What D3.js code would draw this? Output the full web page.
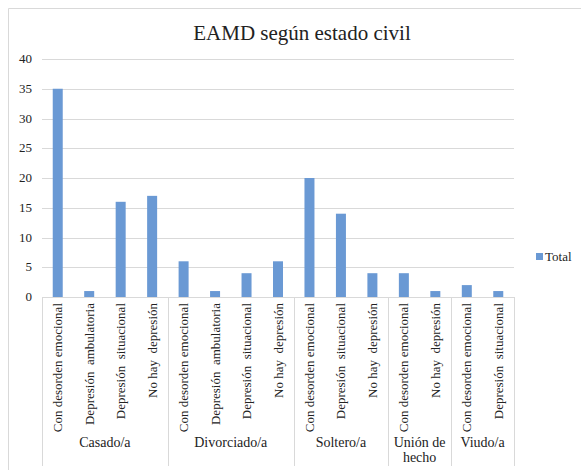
<!DOCTYPE html>
<html>
<head>
<meta charset="utf-8">
<script src="https://cdn.jsdelivr.net/npm/d3@7"></script>
</head>
<body style="margin:0">
<svg id="s" width="581" height="470"></svg>
<script>
const groups = ["Casado/a", "Divorciado/a", "Soltero/a", "Unión de hecho", "Viudo/a"];
const groupOf = ["Casado/a", "Casado/a", "Casado/a", "Casado/a",
  "Divorciado/a", "Divorciado/a", "Divorciado/a", "Divorciado/a",
  "Soltero/a", "Soltero/a", "Soltero/a",
  "Unión de hecho", "Unión de hecho",
  "Viudo/a", "Viudo/a"];
const categories = ["Con desorden emocional", "Depresión  ambulatoria", "Depresión  situacional", "No hay  depresión",
  "Con desorden emocional", "Depresión  ambulatoria", "Depresión  situacional", "No hay  depresión",
  "Con desorden emocional", "Depresión  situacional", "No hay  depresión",
  "Con desorden emocional", "No hay  depresión",
  "Con desorden emocional", "Depresión  situacional"];
const totals = [35, 1, 16, 17, 6, 1, 4, 6, 20, 14, 4, 4, 1, 2, 1];
const yTicks = [0, 5, 10, 15, 20, 25, 30, 35, 40];

const svg = d3.select("#s");
const plot = { left: 42, right: 514, top: 59, bottom: 297 };

const data = totals.map((v, i) => ({ key: i, cat: categories[i], group: groupOf[i], value: v }));

const x = d3.scaleBand().domain(data.map(d => d.key)).range([plot.left, plot.right]);
const y = d3.scaleLinear().domain([0, 40]).range([plot.bottom, plot.top]);

function serif(sel, size) {
  return sel.style("font-family", '"Liberation Serif", "Times New Roman", Tinos, "DejaVu Serif"')
    .style("font-size", size + "px");
}

// chart frame
svg.append("path")
  .attr("d", `M8.5,470 V8.5 H581`)
  .attr("fill", "none").attr("stroke", "#d9d9d9");

svg.append("text")
  .attr("x", 302).attr("y", 40)
  .attr("text-anchor", "middle")
  .attr("fill", "#222")
  .call(serif, 21)
  .text("EAMD según estado civil");

// gridlines + y labels
const grid = svg.append("g");
grid.selectAll("line")
  .data(yTicks.filter(t => t > 0))
  .join("line")
  .attr("x1", plot.left).attr("x2", plot.right)
  .attr("y1", d => Math.round(y(d)) + 0.5).attr("y2", d => Math.round(y(d)) + 0.5)
  .attr("stroke", "#d9d9d9");
grid.selectAll("text")
  .data(yTicks)
  .join("text")
  .attr("x", plot.left - 10)
  .attr("y", d => y(d))
  .attr("dy", "0.32em")
  .attr("text-anchor", "end")
  .attr("fill", "#222")
  .call(serif, 13)
  .text(d => d);

// bars
const barW = 10;
svg.append("g").selectAll("rect")
  .data(data)
  .join("rect")
  .attr("x", d => x(d.key) + x.bandwidth() / 2 - barW / 2)
  .attr("y", d => y(d.value))
  .attr("width", barW)
  .attr("height", d => y(0) - y(d.value))
  .attr("fill", "#6a99d4");

// x axis line
svg.append("line")
  .attr("x1", plot.left).attr("x2", plot.right)
  .attr("y1", y(0) + 0.5).attr("y2", y(0) + 0.5)
  .attr("stroke", "#d9d9d9");

// category labels
svg.append("g").selectAll("text")
  .data(data)
  .join("text")
  .attr("transform", d => `translate(${x(d.key) + x.bandwidth() / 2 + 4.5},${plot.bottom + 6}) rotate(-90)`)
  .attr("text-anchor", "end")
  .attr("fill", "#222")
  .call(serif, 13)
  .style("white-space", "pre")
  .text(d => d.cat);

// group separators and labels
const spans = groups.map(g => {
  const keys = data.filter(d => d.group === g).map(d => d.key);
  return { g, x0: x(keys[0]), x1: x(keys[keys.length - 1]) + x.bandwidth() };
});
const seps = [plot.left].concat(spans.map(s => s.x1));
svg.append("g").selectAll("line")
  .data(seps)
  .join("line")
  .attr("x1", d => Math.round(d) + 0.5).attr("x2", d => Math.round(d) + 0.5)
  .attr("y1", plot.bottom).attr("y2", 466)
  .attr("stroke", "#d9d9d9");

const gl = svg.append("g").selectAll("text")
  .data(spans)
  .join("text")
  .attr("x", d => (d.x0 + d.x1) / 2)
  .attr("y", 447)
  .attr("text-anchor", "middle")
  .attr("fill", "#222")
  .call(serif, 14);
gl.each(function(d) {
  const t = d3.select(this);
  const lines = d.g === "Unión de hecho" ? ["Unión de", "hecho"] : [d.g];
  lines.forEach((ln, i) => {
    t.append("tspan").attr("x", (d.x0 + d.x1) / 2).attr("dy", i === 0 ? 0 : 15).text(ln);
  });
});

// legend
svg.append("rect").attr("x", 536).attr("y", 253).attr("width", 7).attr("height", 7).attr("fill", "#6a99d4");
svg.append("text").attr("x", 545).attr("y", 261)
  .attr("fill", "#222")
  .call(serif, 13)
  .text("Total");
</script>
</body>
</html>
